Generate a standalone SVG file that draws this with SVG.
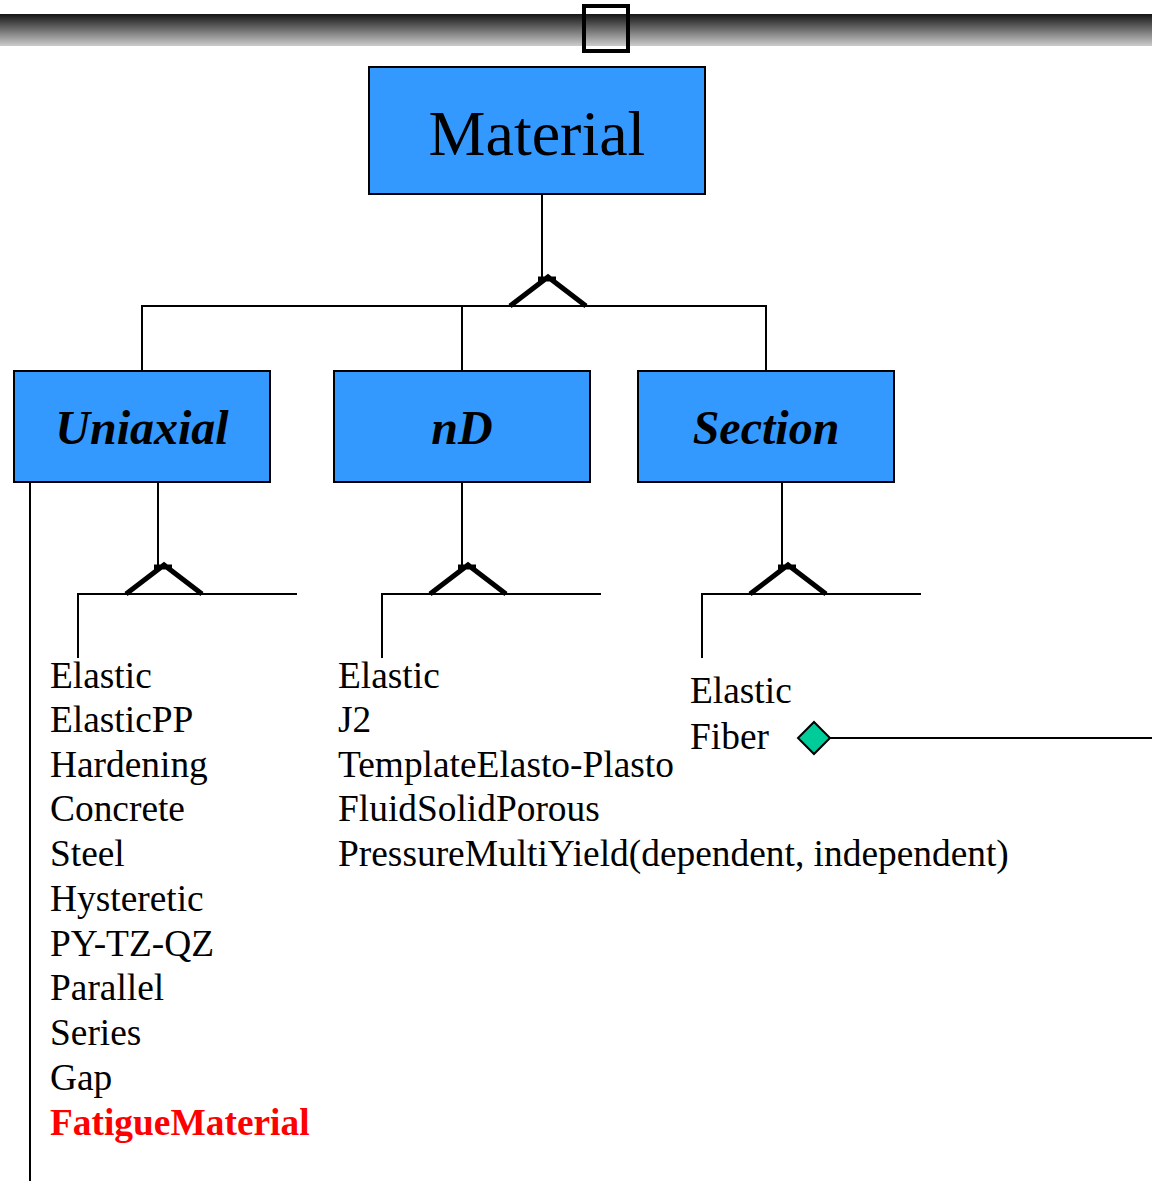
<svg xmlns="http://www.w3.org/2000/svg" width="1152" height="1181" viewBox="0 0 1152 1181">
<defs>
<linearGradient id="bar" x1="0" y1="0" x2="0" y2="1">
<stop offset="0" stop-color="#151515"/>
<stop offset="1" stop-color="#cccccc"/>
</linearGradient>
<style>
.box{fill:#3399ff;stroke:#000;stroke-width:2}
.title{font-family:"Liberation Serif",serif;fill:#000;text-anchor:middle}
.sub{font-family:"Liberation Serif",serif;font-weight:bold;font-style:italic;font-size:48px;fill:#000;text-anchor:middle}
.item{font-family:"Liberation Serif",serif;font-size:37.4px;fill:#000}
.ln{stroke:#000;stroke-width:2;fill:none}
.tri{stroke:#000;stroke-width:5;fill:none}
</style>
</defs>
<rect width="1152" height="1181" fill="#fff"/>
<rect x="0" y="14" width="1152" height="32" fill="url(#bar)"/>
<rect x="584" y="6" width="44" height="45" fill="none" stroke="#000" stroke-width="4"/>
<g id="connectors">
<path class="ln" d="M542 194V280M142 370V306H766V370M462 306V370"/>
<path class="tri" d="M510 306L548 277L586 306M538 279H556"/>
<path class="ln" d="M30 482V1181"/>
<path class="ln" d="M158 482V568M78 658V594H297"/>
<path class="tri" d="M126 594L164 565L202 594M154 567H172"/>
<path class="ln" d="M462 482V568M382 658V594H601"/>
<path class="tri" d="M430 594L468 565L506 594M458 567H476"/>
<path class="ln" d="M782 482V568M702 658V594H921"/>
<path class="tri" d="M750 594L788 565L826 594M778 567H796"/>
<path class="ln" d="M830 738H1152"/>
<path d="M814 722L830 738L814 754L798 738Z" fill="#00cc99" stroke="#000" stroke-width="2"/>
</g>
<g id="material">
<rect class="box" x="369" y="67" width="336" height="127"/>
<text class="title" x="537" y="155" font-size="64">Material</text>
</g>
<g id="uniaxial">
<rect class="box" x="14" y="371" width="256" height="111"/>
<text class="sub" x="142" y="444">Uniaxial</text>
</g>
<g id="nd">
<rect class="box" x="334" y="371" width="256" height="111"/>
<text class="sub" x="462" y="444">nD</text>
</g>
<g id="section">
<rect class="box" x="638" y="371" width="256" height="111"/>
<text class="sub" x="766" y="444">Section</text>
</g>
<g id="uniaxial-list" class="item">
<text x="50" y="688">Elastic</text>
<text x="50" y="732">ElasticPP</text>
<text x="50" y="777">Hardening</text>
<text x="50" y="821">Concrete</text>
<text x="50" y="866">Steel</text>
<text x="50" y="911">Hysteretic</text>
<text x="50" y="956">PY-TZ-QZ</text>
<text x="50" y="1000">Parallel</text>
<text x="50" y="1045">Series</text>
<text x="50" y="1090">Gap</text>
<text x="50" y="1135" font-weight="bold" fill="#ff0000">FatigueMaterial</text>
</g>
<g id="nd-list" class="item">
<text x="338" y="688">Elastic</text>
<text x="338" y="732">J2</text>
<text x="338" y="777">TemplateElasto-Plasto</text>
<text x="338" y="821">FluidSolidPorous</text>
<text x="338" y="866">PressureMultiYield(dependent, independent)</text>
</g>
<g id="section-list" class="item">
<text x="690" y="703">Elastic</text>
<text x="690" y="749">Fiber</text>
</g>
</svg>
